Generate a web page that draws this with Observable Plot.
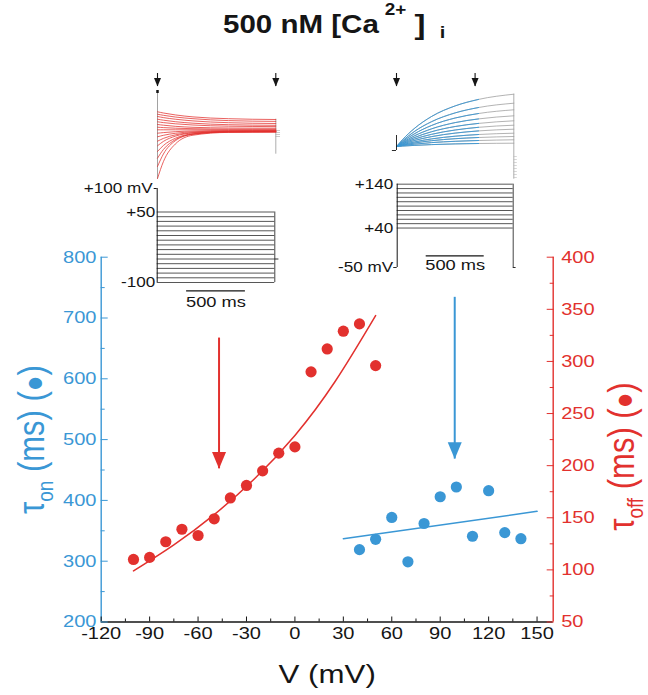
<!DOCTYPE html>
<html>
<head>
<meta charset="utf-8">
<script src="https://cdn.jsdelivr.net/npm/d3@7"></script>
<script src="https://cdn.jsdelivr.net/npm/@observablehq/plot@0.6"></script>
<style>
  body { margin: 0; background: #fff; }
  #wrap { position: relative; width: 648px; height: 695px; overflow: hidden; background: #fff;
          font-family: "Liberation Sans", Arial, Helvetica, sans-serif; }
  #title { position: absolute; left: 0px; top: 10.5px; width: 668px; text-align: center;
           font: bold 25px/25px "Liberation Sans", Arial, Helvetica, sans-serif; color: #151515; }
  #title .in { display: inline-block; transform: scaleX(1.18); transform-origin: center; white-space: nowrap; }
  #title .sup { font-size: 16px; position: relative; top: -18px; margin-left: 5px; }
  #title .br { font-size: 28px; margin-left: 7px; position: relative; top: 1px; }
  #title .sub { font-size: 17px; position: relative; top: 5px; margin-left: 12px; }
</style>
</head>
<body>
<div id="wrap">
  <div id="title"><span class="in">500 nM [Ca<span class="sup">2+</span><span class="br">]</span><span class="sub">i</span></span></div>
</div>
<script>
// ---------------- main chart data ----------------
const voltageOff = [-100, -90, -80, -70, -60, -50, -40, -30, -20, -10, 0, 10, 20, 30, 40, 50];
const tauOff     = [110, 112, 127, 139, 133, 149, 169, 181, 195, 212, 218, 290, 312, 329, 336, 296];
const voltageOn  = [40, 50, 60, 70, 80, 90, 100, 110, 120, 130, 140];
const tauOn      = [319, 336, 372, 299, 362, 406, 422, 341, 416, 347, 337];
const fitOffV    = [-100, -75, -50, -25, 0, 25, 50];
const fitOffTau  = [99, 124, 153, 187.5, 229, 281, 344];
const fitOnV     = [30, 150];
const fitOnTau   = [337, 382];
const arrowOffV = [-47], arrowOffFrom = [667], arrowOffTo = [452];
const arrowOnV  = [99],  arrowOnFrom  = [734], arrowOnTo  = [468];

const xTicks          = [-120, -90, -60, -30, 0, 30, 60, 90, 120, 150];
const xMinorTicks     = [-105, -75, -45, -15, 15, 45, 75, 105, 135];
const leftTicks       = [200, 300, 400, 500, 600, 700, 800];
const leftMinorTicks  = [250, 350, 450, 550, 650, 750];
const rightTicks      = [50, 100, 150, 200, 250, 300, 350, 400];
const rightMinorTicks = [75, 125, 175, 225, 275, 325, 375];

const xTitle = "V (mV)";
const leftTitle = "τon (ms) (●)";
const rightTitle = "τoff (ms) (●)";

// ---------------- inset data ----------------
// tail currents (left inset), time in ms, current in a.u.
const offTimes = [0, 50, 150, 300, 600, 1000];
const offTraces = [
  [19.7, 18.5, 16.6, 14.6, 12.8, 12.0],
  [17.3, 16.2, 14.5, 12.8, 10.9, 10.1],
  [15.0, 13.9, 12.3, 10.6, 8.8, 8.0],
  [12.3, 11.3, 9.8, 8.3, 6.8, 6.2],
  [9.7, 8.9, 7.7, 6.5, 5.3, 4.9],
  [7.0, 6.3, 5.2, 4.2, 3.5, 3.3],
  [4.3, 3.9, 3.3, 2.8, 2.4, 2.3],
  [1.7, 1.7, 1.7, 1.7, 1.7, 1.7],
  [-1.7, -1.1, -0.2, 0.5, 0.9, 1.0],
  [-5.3, -3.8, -1.8, -0.3, 0.5, 0.7],
  [-9.7, -6.9, -3.4, -1.1, 0.1, 0.3],
  [-14.3, -9.9, -4.7, -1.5, -0.2, 0],
  [-20.0, -14.0, -6.8, -2.3, -0.3, 0],
  [-26.7, -18.0, -8.2, -2.7, -0.5, -0.3],
  [-35.0, -22.5, -9.3, -2.7, -0.5, -0.3],
  [-47.0, -30.1, -12.6, -3.7, -0.9, -0.7]
];
const offCapSpan = [-47.7, 41], offCapMark = [38, 41];
const offTailSpan = [-22.7, 12.3], offTails = [1, -1, -3, -5];
const offArrowT = [0, 1000], offArrowShaft = [58, 45];

// activation currents (right inset)
const onTimes = [0, 50, 150, 300, 500, 700, 1000];
const onFitEnd = 700;
const onTraces = [
  [0, 6.7, 17.8, 30.1, 40.6, 47.1, 52.3],
  [0, 5.5, 14.8, 24.9, 33.6, 39.0, 43.3],
  [0, 4.7, 12.5, 21.1, 28.5, 33.0, 36.7],
  [0, 3.9, 10.5, 17.7, 23.9, 27.6, 30.7],
  [0, 3.3, 8.8, 14.8, 20.0, 23.1, 25.7],
  [0, 2.7, 7.3, 12.2, 16.5, 19.2, 21.3],
  [0, 2.2, 5.9, 9.9, 13.4, 15.6, 17.3],
  [0, 1.7, 4.5, 7.6, 10.3, 12.0, 13.3],
  [0, 1.3, 3.4, 5.8, 7.8, 9.0, 10.0],
  [0, 0.9, 2.3, 3.9, 5.2, 6.0, 6.7],
  [0, 0.4, 1.1, 1.9, 2.6, 3.0, 3.3]
];
const onCapSpan = [-4, 11], onHold = [-4];
const onTailSpan = [-32.7, 52.3], onTails = [-10, -13, -16, -19, -22, -25, -28, -31];
const onArrowT = [0, 670], onArrowShaft = [73, 60];

// voltage protocols
const offSteps = [50, 40, 30, 20, 10, 0, -10, -20, -30, -40, -50, -60, -70, -80, -90, -100];
const offProtoTop = 100, offProtoTicks = [100, 50, -100];
const offProtoLabels = {"100": "+100 mV", "50": "+50", "-100": "-100"};
const offProtoStub = [-50];
const onSteps = [140, 130, 120, 110, 100, 90, 80, 70, 60, 50, 40];
const onHoldV = [-50], onProtoTicks = [140, 40, -50];
const onProtoLabels = {"140": "+140", "40": "+40", "-50": "-50 mV"};
const stepDuration = 1000;
const scaleBarMs = [250, 750], scaleBarLabel = "500 ms";
const offScaleBarV = [-118], onScaleBarV = [-23.3];

// ---------------- helpers ----------------
const K = 1.18;
const FONT = '"Liberation Sans", Arial, Helvetica, sans-serif';
const blue = "#3a97d5", red = "#e2312e", ink = "#151515";
const toLeft = d3.scaleLinear([50, 400], [200, 800]);
const headDown = { draw(ctx, size) { const r = Math.sqrt(size / Math.PI);
  ctx.moveTo(0, 0); ctx.lineTo(-r, -2.4 * r); ctx.lineTo(r, -2.4 * r); ctx.closePath(); } };
const wrap = document.getElementById("wrap");
function style(left, top) {
  return {position: "absolute", left: left + "px", top: top + "px", background: "transparent",
          overflow: "visible", fontFamily: FONT, color: ink, maxWidth: "none"};
}
function stretch(svg) {
  svg.querySelectorAll("text").forEach(t => {
    const tr = t.getAttribute("transform") || "";
    const rot = /rotate/.test(tr);
    t.setAttribute("transform", `${tr} ${rot ? `scale(1,${K})` : `scale(${K},1)`}`);
  });
}
function rich(svg, str, parts) {
  const t = [...svg.querySelectorAll("text")].find(n => n.textContent === str);
  if (!t) return;
  t.textContent = "";
  for (const [s, size, dy] of parts) {
    const ts = document.createElementNS("http://www.w3.org/2000/svg", "tspan");
    ts.textContent = s;
    if (size) ts.setAttribute("font-size", size);
    if (dy) ts.setAttribute("dy", dy);
    t.appendChild(ts);
  }
}

// ---------------- main chart ----------------
const main = Plot.plot({
  width: 648, height: 643,
  marginTop: 204.7, marginRight: 95.3, marginBottom: 73.5, marginLeft: 100.7,
  x: {domain: [-120, 160], axis: null},
  y: {domain: [200, 800], axis: null},
  style: style(0, 52),
  marks: [
    Plot.ruleY([200], {stroke: ink, strokeWidth: 1.3}),
    Plot.ruleX([-120], {y1: 200, y2: 800, stroke: blue, strokeWidth: 1.4}),
    Plot.ruleX([160], {y1: 200, y2: 800, stroke: red, strokeWidth: 1.4}),
    Plot.axisX(xTicks, {tickSize: -5, tickFormat: () => "", label: null, color: ink}),
    Plot.axisX(xMinorTicks, {tickSize: -3, tickFormat: () => "", label: null, color: ink}),
    Plot.axisX(xTicks, {tickSize: 0, tickPadding: 5, tickFormat: d => String(d), fontSize: 17, label: null, color: ink}),
    Plot.axisY(leftTicks, {anchor: "left", tickSize: -7, tickFormat: () => "", label: null, color: blue}),
    Plot.axisY(leftMinorTicks, {anchor: "left", tickSize: -4, tickFormat: () => "", label: null, color: blue}),
    Plot.axisY(leftTicks, {anchor: "left", tickSize: 0, tickPadding: 4.7, tickFormat: d => String(d), fontSize: 17, label: null, color: blue}),
    Plot.axisY(rightTicks.map(toLeft), {anchor: "right", tickSize: -7, tickFormat: () => "", label: null, color: red}),
    Plot.axisY(rightMinorTicks.map(toLeft), {anchor: "right", tickSize: -4, tickFormat: () => "", label: null, color: red}),
    Plot.axisY(rightTicks.map(toLeft), {anchor: "right", tickSize: 0, tickPadding: 8,
      tickFormat: d => String(Math.round(toLeft.invert(d))), fontSize: 17, label: null, color: red}),
    Plot.line(fitOffV, {x: fitOffV, y: fitOffTau.map(toLeft), stroke: red, strokeWidth: 1.5, curve: "natural"}),
    Plot.line(fitOnV, {x: fitOnV, y: fitOnTau, stroke: blue, strokeWidth: 1.5}),
    Plot.dot(voltageOff, {x: voltageOff, y: tauOff.map(toLeft), r: 5.6, fill: red, stroke: null}),
    Plot.dot(voltageOn, {x: voltageOn, y: tauOn, r: 5.6, fill: blue, stroke: null}),
    Plot.ruleX(arrowOffV, {x: arrowOffV, y1: arrowOffFrom, y2: arrowOffTo, stroke: red, strokeWidth: 2}),
    Plot.dot(arrowOffV, {x: arrowOffV, y: arrowOffTo, symbol: headDown, r: 7, fill: red, stroke: null}),
    Plot.ruleX(arrowOnV, {x: arrowOnV, y1: arrowOnFrom, y2: arrowOnTo, stroke: blue, strokeWidth: 2}),
    Plot.dot(arrowOnV, {x: arrowOnV, y: arrowOnTo, symbol: headDown, r: 7, fill: blue, stroke: null}),
    Plot.text([xTitle], {text: d => d, frameAnchor: "bottom", lineAnchor: "middle", textAnchor: "middle", dy: 52.5, fontSize: 26.5, fill: ink}),
    Plot.text([leftTitle], {text: d => d, frameAnchor: "left", textAnchor: "middle", lineAnchor: "middle", dx: -69, rotate: -90, fontSize: 31, fill: blue}),
    Plot.text([rightTitle], {text: d => d, frameAnchor: "right", textAnchor: "middle", lineAnchor: "middle", dx: 69, dy: 17, rotate: -90, fontSize: 31, fill: red})
  ]
});
rich(main, leftTitle, [["τ"], ["on", 19, 8], [" (ms) (", null, -8], ["●", 26], [")"]]);
rich(main, rightTitle, [["τ"], ["off", 19, 8], [" (ms) (", null, -8], ["●", 26], [")"]]);
stretch(main);
wrap.appendChild(main);

// ---------------- inset: tail currents ----------------
const offRows = offTraces.flatMap((vals, k) => vals.map((v, j) => ({t: offTimes[j], v, k})));
const insetOff = Plot.plot({
  width: 150, height: 125, marginLeft: 17, marginRight: 14.7, marginTop: 21, marginBottom: 4,
  x: {domain: [0, stepDuration], axis: null}, y: {domain: [-50, 50], axis: null},
  style: style(140, 60),
  marks: [
    Plot.ruleX([0], {y1: offCapSpan[0], y2: offCapSpan[1], stroke: "#8a8a8a", strokeWidth: 0.8}),
    Plot.ruleX([0], {y1: offCapMark[0], y2: offCapMark[1], stroke: ink, strokeWidth: 2.5}),
    Plot.ruleX([stepDuration], {y1: offTailSpan[0], y2: offTailSpan[1], stroke: "#999", strokeWidth: 0.8}),
    Plot.ruleY(offTails, {x1: stepDuration, x2: stepDuration + 40, stroke: "#aaa", strokeWidth: 0.6}),
    Plot.line(offRows, {x: "t", y: "v", z: "k", stroke: red, strokeWidth: 0.9, strokeOpacity: 0.85, curve: "monotone-x"}),
    Plot.ruleX(offArrowT, {y1: offArrowShaft[0], y2: offArrowShaft[1], stroke: ink, strokeWidth: 1.1}),
    Plot.dot(offArrowT, {x: offArrowT, y: offArrowT.map(() => offArrowShaft[1]), symbol: headDown, r: 3.5, fill: ink, stroke: null})
  ]
});
wrap.appendChild(insetOff);

// ---------------- inset: activation currents ----------------
const onRows = onTraces.flatMap((vals, k) => vals.map((v, j) => ({t: onTimes[j], v, k})));
const insetOn = Plot.plot({
  width: 150, height: 130, marginLeft: 16, marginRight: 16.7, marginTop: 26, marginBottom: 4,
  x: {domain: [0, stepDuration], axis: null}, y: {domain: [-40, 60], axis: null},
  style: style(380, 60),
  marks: [
    Plot.ruleX([stepDuration], {y1: onTailSpan[0], y2: onTailSpan[1], stroke: "#9a9a9a", strokeWidth: 0.8}),
    Plot.ruleY(onTails, {x1: stepDuration, x2: stepDuration + 30, stroke: "#bbb", strokeWidth: 0.6}),
    Plot.line(onRows, {x: "t", y: "v", z: "k", stroke: "#a0a0a0", strokeWidth: 0.8, curve: "monotone-x"}),
    Plot.line(onRows, {filter: d => d.t <= onFitEnd, x: "t", y: "v", z: "k", stroke: blue, strokeWidth: 0.9, curve: "monotone-x"}),
    Plot.ruleX([0], {y1: onCapSpan[0], y2: onCapSpan[1], stroke: ink, strokeWidth: 0.9}),
    Plot.ruleY(onHold, {x1: -35, x2: 0, stroke: ink, strokeWidth: 0.9}),
    Plot.ruleX(onArrowT, {y1: onArrowShaft[0], y2: onArrowShaft[1], stroke: ink, strokeWidth: 1.1}),
    Plot.dot(onArrowT, {x: onArrowT, y: onArrowT.map(() => onArrowShaft[1]), symbol: headDown, r: 3.5, fill: ink, stroke: null})
  ]
});
wrap.appendChild(insetOn);

// ---------------- inset: tail protocol ----------------
const protoOff = Plot.plot({
  width: 220, height: 140, marginLeft: 86.7, marginRight: 15.7, marginTop: 8.3, marginBottom: 18.9,
  x: {domain: [0, stepDuration], axis: null}, y: {domain: [-130, 110], axis: null},
  style: style(70, 175),
  marks: [
    Plot.ruleY(offSteps, {x1: 0, x2: stepDuration, stroke: "#444", strokeWidth: 0.9}),
    Plot.ruleX([0], {y1: d3.min(offSteps), y2: offProtoTop, stroke: ink, strokeWidth: 1}),
    Plot.ruleX([stepDuration], {y1: d3.min(offSteps), y2: d3.max(offSteps), stroke: "#444", strokeWidth: 1}),
    Plot.ruleY(offProtoStub, {x1: stepDuration, x2: stepDuration + 35, stroke: ink, strokeWidth: 0.9}),
    Plot.axisY([offProtoTicks[0]], {anchor: "left", tickSize: 3, tickPadding: 1.5, fontSize: 14.5, label: null, color: ink,
      tickFormat: d => offProtoLabels[d]}),
    Plot.axisY(offProtoTicks.slice(1), {anchor: "left", tickSize: 0, tickPadding: 2, fontSize: 14.5, label: null, color: ink,
      tickFormat: d => offProtoLabels[d]}),
    Plot.ruleY(offScaleBarV, {x1: scaleBarMs[0], x2: scaleBarMs[1], stroke: ink, strokeWidth: 1.2}),
    Plot.text([scaleBarLabel], {text: d => d, x: d3.mean(scaleBarMs), y: offScaleBarV[0], dy: 10.7, fontSize: 15.5, fill: ink})
  ]
});
stretch(protoOff);
wrap.appendChild(protoOff);

// ---------------- inset: activation protocol ----------------
const protoOn = Plot.plot({
  width: 200, height: 110, marginLeft: 66.7, marginRight: 17.3, marginTop: 9.3, marginBottom: 8.6,
  x: {domain: [0, stepDuration], axis: null}, y: {domain: [-60, 150], axis: null},
  style: style(330, 170),
  marks: [
    Plot.ruleY(onSteps, {x1: 0, x2: stepDuration, stroke: "#444", strokeWidth: 0.9}),
    Plot.ruleX([0], {y1: onHoldV[0], y2: d3.max(onSteps), stroke: ink, strokeWidth: 1}),
    Plot.ruleX([stepDuration], {y1: onHoldV[0], y2: d3.max(onSteps), stroke: "#444", strokeWidth: 1}),
    Plot.ruleY(onHoldV, {x1: -30, x2: 0, stroke: ink, strokeWidth: 0.9}),
    Plot.ruleY(onHoldV, {x1: stepDuration, x2: stepDuration + 25, stroke: ink, strokeWidth: 0.9}),
    Plot.axisY(onProtoTicks, {anchor: "left", tickSize: 0, tickPadding: 4, fontSize: 14.5, label: null, color: ink,
      tickFormat: d => onProtoLabels[d]}),
    Plot.ruleY(onScaleBarV, {x1: scaleBarMs[0], x2: scaleBarMs[1], stroke: ink, strokeWidth: 1.2}),
    Plot.text([scaleBarLabel], {text: d => d, x: d3.mean(scaleBarMs), y: onScaleBarV[0], dy: 8.9, fontSize: 15.5, fill: ink})
  ]
});
stretch(protoOn);
wrap.appendChild(protoOn);
</script>
</body>
</html>
